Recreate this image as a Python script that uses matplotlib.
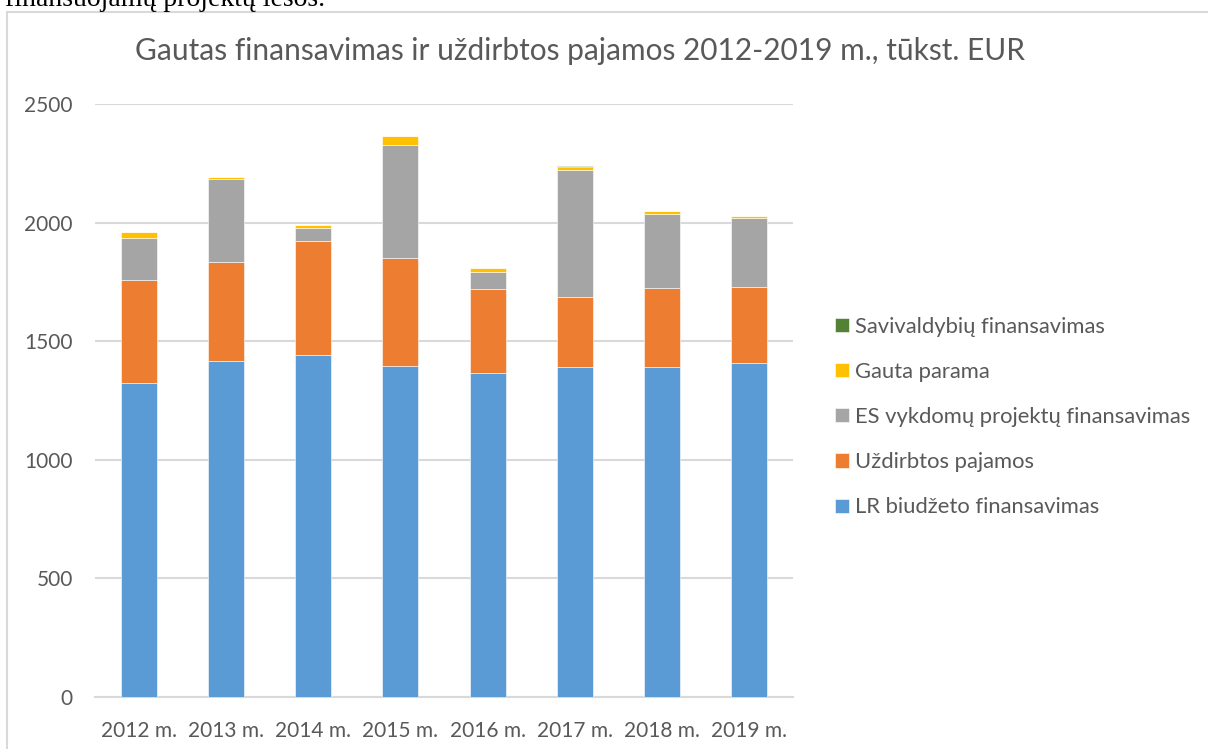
import numpy as np
import matplotlib.pyplot as plt
from matplotlib.patches import Rectangle

# Data (tūkst. EUR)
years = ['2012 m.', '2013 m.', '2014 m.', '2015 m.', '2016 m.', '2017 m.', '2018 m.', '2019 m.']
lr_biudzetas = [1322, 1415, 1441, 1397, 1365, 1390, 1390, 1410]
uzdirbtos = [436, 418, 480, 455, 356, 295, 336, 317]
es_projektai = [178, 350, 58, 477, 72, 535, 312, 294]
parama = [23, 9, 11, 36, 14, 14, 10, 7]
savivaldybes = [0, 0, 0, 0, 0, 5, 0, 0]

series_names = ['LR biudžeto finansavimas', 'Uždirbtos pajamos',
                'ES vykdomų projektų finansavimas', 'Gauta parama',
                'Savivaldybių finansavimas']
colors = ['#5B9BD5', '#ED7D31', '#A5A5A5', '#FFC000', '#548235']

plt.rcParams['font.family'] = ['Lato', 'DejaVu Sans']
txt_color = '#595959'
grid_color = '#D9D9D9'

W, H = 1208, 749
fig = plt.figure(figsize=(W / 100, H / 100), dpi=100)

# chart frame (cut by the page edge on the right and bottom)
fig.patches.append(Rectangle((7 / W, -0.1), 1.2, 1 - 12 / H + 0.1,
                             transform=fig.transFigure, fill=False,
                             edgecolor=grid_color, linewidth=1.5))

# line of document text above the chart, clipped by the top edge
fig.text(325 / W, 1 - 6 / H, 'finansuojamų projektų lėšos.', ha='right',
         va='baseline', fontsize=20, color='black', family='Liberation Serif')

ax = fig.add_axes([95 / W, 1 - 697 / H, (793 - 95) / W, (697 - 104) / H])

x = np.arange(len(years))
bottom = np.zeros(len(years))
for vals, name, c in zip([lr_biudzetas, uzdirbtos, es_projektai, parama, savivaldybes],
                         series_names, colors):
    ax.bar(x, vals, width=0.41, bottom=bottom, color=c, label=name,
           edgecolor='white', linewidth=0.4, zorder=3)
    bottom += np.array(vals)

ax.set_xlim(-0.5, len(years) - 0.5)
ax.set_ylim(0, 2500)
ax.set_yticks(np.arange(0, 2501, 500))
ax.set_xticks(x)
ax.set_xticklabels(years)
ax.grid(axis='y', color=grid_color, linewidth=1.5, zorder=0)
for s in ['top', 'right', 'left']:
    ax.spines[s].set_visible(False)
ax.spines['bottom'].set_color(grid_color)
ax.spines['bottom'].set_linewidth(1.5)
ax.tick_params(length=0, colors=txt_color, labelsize=15)
ax.tick_params(axis='y', pad=16)
ax.tick_params(axis='x', pad=17)

fig.text(580 / W, 1 - 60 / H,
         'Gautas finansavimas ir uždirbtos pajamos 2012-2019 m., tūkst. EUR',
         ha='center', va='baseline', fontsize=21.5, color=txt_color)

handles, labels = ax.get_legend_handles_labels()
leg = fig.legend(handles[::-1], labels[::-1], loc='center left',
                 bbox_to_anchor=(835 / W, 1 - 417 / H), frameon=False,
                 fontsize=15.8, handlelength=0.62, handleheight=0.62,
                 handletextpad=0.3, labelspacing=1.15, borderpad=0,
                 borderaxespad=0)
for t in leg.get_texts():
    t.set_color(txt_color)

fig.savefig('out.png', dpi=100)
